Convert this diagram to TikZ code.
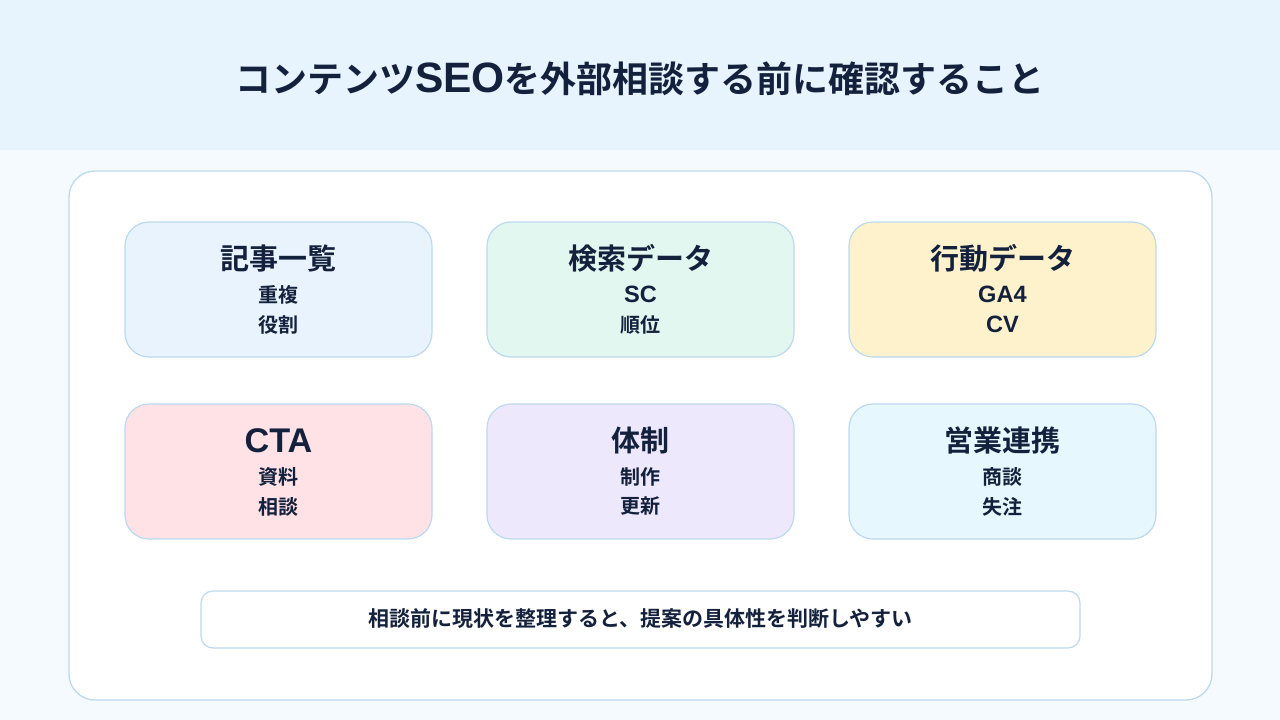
\documentclass[tikz,border=0pt]{standalone}
\usepackage{fontspec}
\setmainfont{Noto Sans CJK JP}[BoldFont={* Bold}]
\newfontfamily\jpb{Noto Sans CJK JP Bold}
\newfontfamily\lat{Liberation Sans Bold}[Scale=1.18]
\definecolor{band}{HTML}{E7F4FE}
\definecolor{pagebg}{HTML}{F5FAFE}
\definecolor{edge}{HTML}{BDD9EE}
\definecolor{ink}{HTML}{14213D}
\definecolor{cblue}{HTML}{E8F3FE}
\definecolor{cgreen}{HTML}{E1F7EF}
\definecolor{cyellow}{HTML}{FEF2CD}
\definecolor{cred}{HTML}{FEE2E6}
\definecolor{cpurple}{HTML}{EEE8FD}
\definecolor{ccyan}{HTML}{E6F8FE}
\begin{document}
\begin{tikzpicture}[x=1pt,y=-1pt,
  card/.style={draw=edge,line width=1.2pt,rounded corners=24pt,minimum width=307pt,minimum height=135pt,inner sep=0pt},
  cardtitle/.style={font=\jpb\fontsize{29}{32}\selectfont,text=ink,inner sep=0pt},
  cardsub/.style={font=\jpb\fontsize{20}{30}\selectfont,text=ink,align=center,inner sep=0pt}]
\useasboundingbox (0,0) rectangle (1280,720);
\fill[pagebg] (0,0) rectangle (1280,720);
\fill[band] (0,0) rectangle (1280,150);
\node[font=\jpb\fontsize{36}{40}\selectfont,text=ink] (title) at (640,79) {コンテンツ{\lat SEO}を外部相談する前に確認すること};
\node[draw=edge,line width=1.3pt,fill=white,rounded corners=26pt,minimum width=1143pt,minimum height=529pt,inner sep=0pt] (panel) at (640.5,435.5) {};
% cards
\foreach \n/\cx/\cy/\col/\t/\a/\b in {
  c1/278.5/289.5/cblue/記事一覧/重複/役割,
  c2/640.5/289.5/cgreen/検索データ/{\lat SC}/順位,
  c3/1002.5/289.5/cyellow/行動データ/{\lat GA4}/{\lat CV},
  c4/278.5/471.5/cred/{\lat CTA}/資料/相談,
  c5/640.5/471.5/cpurple/体制/制作/更新,
  c6/1002.5/471.5/ccyan/営業連携/商談/失注}{
  \node[card,fill=\col] (\n) at (\cx,\cy) {};
  \node[cardtitle] (\n t) at (\cx,\cy-31) {\t};
  \node[cardsub] (\n a) at (\cx,\cy+5) {\a};
  \node[cardsub] (\n b) at (\cx,\cy+35) {\b};
}
\node[draw=edge,line width=1.2pt,fill=white,rounded corners=12pt,minimum width=879pt,minimum height=57pt,inner sep=0pt] (note) at (640.5,619.5) {};
\node[font=\jpb\fontsize{21}{24}\selectfont,text=ink] (notet) at (640.5,619) {相談前に現状を整理すると、提案の具体性を判断しやすい};
\end{tikzpicture}
\end{document}
